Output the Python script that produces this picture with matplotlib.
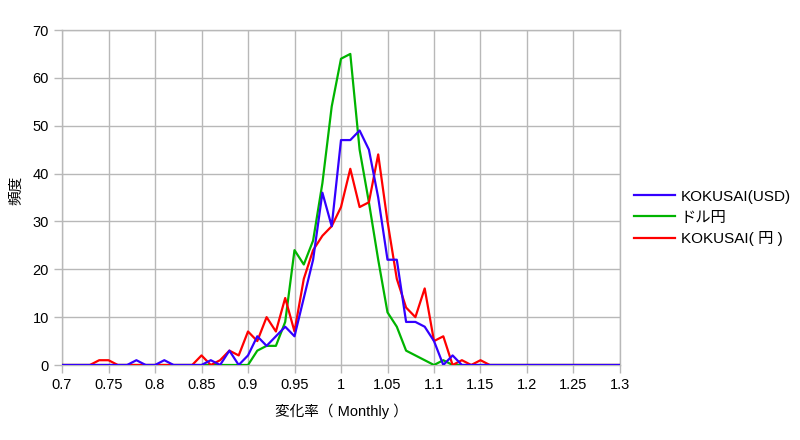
import numpy as np
import matplotlib.pyplot as plt
from matplotlib.ticker import MultipleLocator, FuncFormatter

plt.rcParams['font.family'] = ['Liberation Sans', 'Noto Sans CJK JP', 'DejaVu Sans']

# 変化率のビン (0.70 .. 1.30, 0.01刻み)
bins = np.round(np.linspace(0.70, 1.30, 61), 2)

kokusai_usd = [0, 0, 0, 0, 0, 0, 0, 0,
               1, 0, 0, 1, 0, 0, 0, 0,
               1, 0, 3, 0, 2, 6, 4, 6,
               8, 6, 14, 22, 36, 29, 47, 47,
               49, 45, 35, 22, 22, 9, 9, 8,
               5, 0, 2, 0,
               0, 0, 0, 0, 0, 0, 0, 0, 0, 0, 0, 0, 0, 0, 0, 0, 0]

usd_jpy = [0, 0, 0, 0, 0, 0, 0, 0,
           0, 0, 0, 0, 0, 0, 0, 0,
           0, 0, 0, 0, 0, 3, 4, 4,
           9, 24, 21, 26, 38, 54, 64, 65,
           45, 34, 22, 11, 8, 3, 2, 1,
           0, 1, 0, 0,
           0, 0, 0, 0, 0, 0, 0, 0, 0, 0, 0, 0, 0, 0, 0, 0, 0]

kokusai_jpy = [0, 0, 0, 0, 1, 1, 0, 0,
               0, 0, 0, 0, 0, 0, 0, 2,
               0, 1, 3, 2, 7, 5, 10, 7,
               14, 7, 18, 24, 27, 29, 33, 41,
               33, 34, 44, 30, 18, 12, 10, 16,
               5, 6, 0, 1,
               0, 1, 0, 0, 0, 0, 0, 0, 0, 0, 0, 0, 0, 0, 0, 0, 0]

labels = ['KOKUSAI(USD)', 'ドル円', 'KOKUSAI( 円 )']
colors = ['#3300ff', '#00b400', '#ff0000']

grid_c = '#b8b8b8'

fig = plt.figure(figsize=(8, 4.4), dpi=100)
ax = fig.add_axes([62 / 800, 1 - 365 / 440, (620 - 62) / 800, (365 - 30) / 440])

l_green, = ax.plot(bins, usd_jpy, color=colors[1], lw=1.6, zorder=3)
l_red, = ax.plot(bins, kokusai_jpy, color=colors[2], lw=1.6, zorder=4)
l_blue, = ax.plot(bins, kokusai_usd, color=colors[0], lw=1.6, zorder=5)

ax.set_xlim(0.7, 1.3)
ax.set_ylim(0, 70)
ax.xaxis.set_major_locator(MultipleLocator(0.05))
ax.yaxis.set_major_locator(MultipleLocator(10))
ax.xaxis.set_major_formatter(FuncFormatter(lambda v, p: ('%.2f' % v).rstrip('0').rstrip('.')))
ax.grid(True, color=grid_c, lw=1.0, zorder=0)
ax.tick_params(axis='both', colors=grid_c, labelcolor='black', labelsize=10.5, length=6, width=1.0)
for s in ax.spines.values():
    s.set_color(grid_c)
    s.set_linewidth(1.0)

ax.set_xlabel('変化率（ Monthly ）', fontsize=10.5, labelpad=8)
ax.set_ylabel('頻度', fontsize=10.5)
ax.yaxis.set_label_coords((23 - 62) / 558, 0.52)

fig.legend([l_blue, l_green, l_red], labels, loc='center left',
           bbox_to_anchor=(634 / 800, 1 - 218 / 440), frameon=False,
           borderpad=0, borderaxespad=0,
           fontsize=11, handlelength=2.7, handletextpad=0.35, labelspacing=0.45)

fig.savefig('out.png', dpi=100)
